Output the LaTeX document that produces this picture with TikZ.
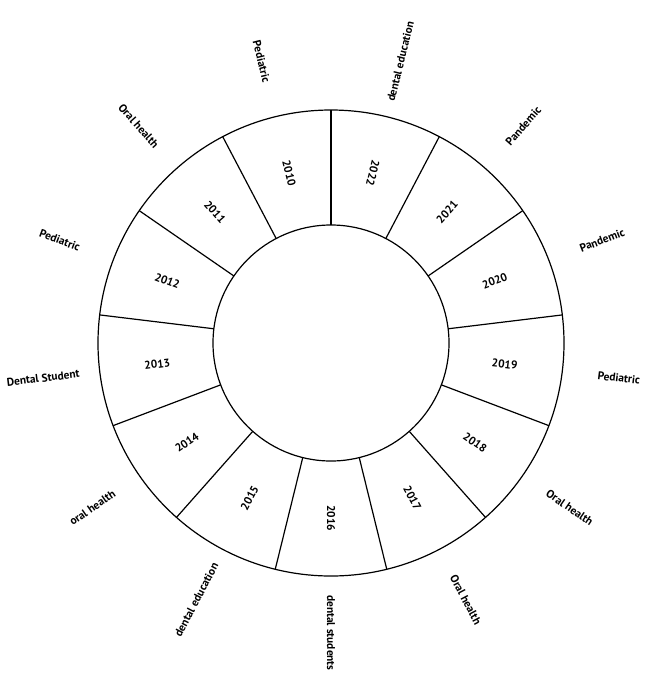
\documentclass[tikz,border=0pt]{standalone}
\usepackage{fontspec}
\setmainfont{PT Sans}
\usetikzlibrary{calc}
\begin{document}
\begin{tikzpicture}[x=0.75pt,y=-0.75pt,
  ring/.style={line width=0.9pt},
  yr/.style={font=\bfseries\fontsize{8.5}{9}\selectfont},
  topic/.style={font=\bfseries\fontsize{8.5}{9}\selectfont}]
\useasboundingbox (0,0) rectangle (649,686);
\coordinate (c) at (331,343);
\draw[ring] (c) circle[radius=233];
\draw[ring] (c) circle[radius=118];
\foreach \k in {0,...,12}{
  \pgfmathsetmacro{\a}{90-\k*360/13}
  \draw[ring] ($(c)+(\a:118 and -118)$) -- ($(c)+(\a:233 and -233)$);
}
\foreach \n/\y/\m/\r in {y22/2022/76.15/-103.85, y21/2021/48.46/48.46, y20/2020/20.77/20.77,
  y19/2019/-6.92/-6.92, y18/2018/-34.62/-34.62, y17/2017/-62.31/-62.31, y16/2016/-90/-90,
  y15/2015/-117.69/62.31, y14/2014/-145.38/34.62, y13/2013/-173.08/6.92,
  y12/2012/159.23/-20.77, y11/2011/131.54/-48.46, y10/2010/103.85/-76.15}{
  \node[yr,rotate=\r] (\n) at ($(c)+(\m:175 and -175)$) {\y};
}
\foreach \n/\t/\m/\r in {t22/dental education/76.15/76.15, t21/Pandemic/48.46/48.46,
  t20/Pandemic/20.77/20.77, t19/Pediatric/-6.92/-6.92, t18/Oral health/-34.62/-34.62,
  t17/Oral health/-62.31/-62.31, t16/dental students/-90/-90,
  t15/dental education/-117.69/62.31, t14/oral health/-145.38/34.62,
  t13/Dental Student/-173.08/6.92, t12/Pediatric/159.23/-20.77,
  t11/Oral health/131.54/-48.46, t10/Pediatric/103.85/-76.15}{
  \node[topic,rotate=\r] (\n) at ($(c)+(\m:290 and -290)$) {\t};
}
\end{tikzpicture}
\end{document}
